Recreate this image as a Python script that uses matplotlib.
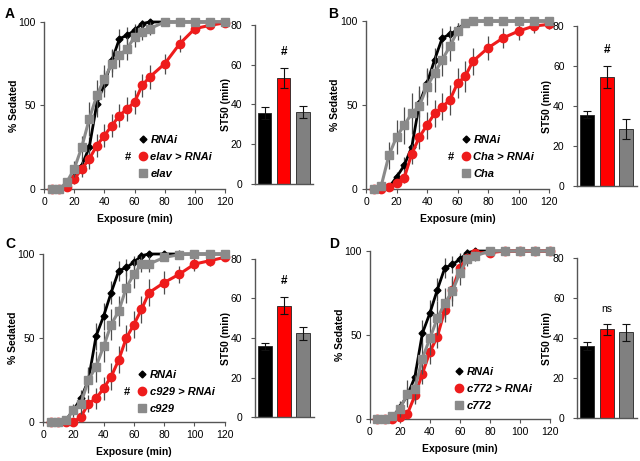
import matplotlib

matplotlib.use("Agg")
import matplotlib.pyplot as plt
from matplotlib.lines import Line2D
import numpy as np

plt.rcParams["font.family"] = ["Liberation Sans", "DejaVu Sans"]

# time points (min)
time_min = [5, 10, 15, 20, 25, 30, 35, 40, 45, 50, 55, 60, 65, 70, 80, 90, 100, 110, 120]

# control shared by all panels
rnai = [0, 0, 1, 7, 14, 25, 51, 63, 77, 90, 92, 95, 99, 100, 100, 100, 100, 100, 100]
rnai_err = [0, 0, 1, 3, 5, 6, 8, 8, 7, 6, 5, 4, 2, 1, 0, 0, 0, 0, 0]

# panel A
elav_rnai = [0, 0, 1, 6, 12, 18, 26, 32, 38, 44, 48, 52, 62, 67, 75, 87, 96, 98, 99.5]
elav_rnai_err = [0, 0, 1, 3, 5, 6, 7, 7, 7, 7, 7, 7, 7, 7, 6, 5, 3, 2, 1]
elav = [0, 0, 4, 12, 25, 42, 56, 66, 75, 80, 84, 91, 94, 96, 100, 100, 100, 100, 100]
elav_err = [0, 0, 2, 5, 7, 10, 9, 8, 8, 7, 7, 6, 5, 4, 0, 0, 0, 0, 0]

# panel B
cha_rnai = [0, 0, 1, 3.5, 6.5, 21, 31, 38, 45, 49, 53, 63, 67, 76, 84, 90, 94, 97, 98]
cha_rnai_err = [0, 0, 1, 2, 3, 6, 7, 8, 8, 8, 9, 9, 9, 8, 7, 6, 5, 4, 3]
cha = [0, 2, 20, 31, 38, 45, 49.5, 61, 69, 77, 85, 94, 99, 100, 100, 100, 100, 100, 100]
cha_err = [0, 2, 8, 10, 11, 12, 12, 11, 11, 10, 9, 5, 2, 0, 0, 0, 0, 0, 0]

# panel C
c929_rnai = [0, 0, 0, 0, 3, 11, 14, 20, 27, 37, 50, 58, 67, 77, 83, 88, 94, 96, 98]
c929_rnai_err = [0, 0, 0, 1, 3, 5, 6, 7, 8, 8, 8, 8, 8, 8, 7, 5, 4, 3, 2]
c929 = [0, 0, 1, 7, 11, 25, 33, 45, 58, 66, 80, 88, 94, 94, 98, 99.6, 100, 100, 100]
c929_err = [0, 0, 1, 4, 6, 8, 9, 9, 9, 9, 9, 8, 5, 5, 2, 1, 0, 0, 0]

# panel D
c772_rnai = [0, 0, 0, 1, 3, 14, 27, 40, 49, 65, 77, 90, 96, 99, 99, 100, 100, 100, 100]
c772_rnai_err = [0, 0, 0, 1, 2, 5, 6, 7, 7, 7, 7, 5, 3, 1, 1, 0, 0, 0, 0]
c772 = [0, 0, 1.5, 6, 15, 18, 36, 48, 60, 69, 76, 87, 95, 97, 100, 100, 100, 100, 100]
c772_err = [0, 0, 1, 5, 8, 8, 9, 10, 10, 9, 9, 7, 4, 3, 0, 0, 0, 0, 0]

# ST50 bars: [RNAi, driver > RNAi, driver]
st50_a = [35.6, 53.3, 36.0]
st50_a_err = [3.1, 5.0, 3.0]
st50_b = [35.7, 54.6, 28.5]
st50_b_err = [1.9, 5.5, 5.2]
st50_c = [35.9, 56.3, 42.3]
st50_c_err = [1.8, 4.4, 3.4]
st50_d = [36.0, 44.4, 42.8]
st50_d_err = [1.8, 2.7, 4.3]

BLACK = "#000000"
RED = "#ee1c1c"
GRAY = "#8a8a8a"
ERR = "#4d4d4d"


def draw_curves(ax, cross, cross_err, driver, driver_err, driver_name, legend_x, legend_y, mark):
    t = np.array(time_min)
    ax.errorbar(t, rnai, yerr=rnai_err, color=BLACK, ecolor=ERR, elinewidth=0.9,
                marker="D", markersize=3.5, linewidth=2.0, clip_on=False, zorder=2)
    ax.errorbar(t, cross, yerr=cross_err, color=RED, ecolor=ERR, elinewidth=0.9,
                marker="o", markersize=6, linewidth=2.2, clip_on=False, zorder=3)
    ax.errorbar(t, driver, yerr=driver_err, color=GRAY, ecolor=ERR, elinewidth=0.9,
                marker="s", markersize=5.5, linewidth=2.2, clip_on=False, zorder=4)
    ax.set_xlim(0, 120)
    ax.set_ylim(0, 100)
    ax.set_xticks(range(0, 121, 20))
    ax.set_yticks([0, 50, 100])
    for side in ("top", "right"):
        ax.spines[side].set_visible(False)
    for side in ("left", "bottom"):
        ax.spines[side].set_color("#555555")
        ax.spines[side].set_linewidth(1.0)
    ax.tick_params(labelsize=7.5, length=3, width=0.8, color="#555555", pad=3)
    ax.set_xlabel("Exposure (min)", fontsize=7.5, fontweight="bold")
    ax.set_ylabel("% Sedated", fontsize=7.5, fontweight="bold")
    ax.xaxis.set_label_coords(0.5, -0.15)
    ax.yaxis.set_label_coords(-0.14, 0.5)

    handles = [
        Line2D([], [], color=BLACK, marker="D", markersize=3.5, linestyle="none"),
        Line2D([], [], color=RED, marker="o", markersize=6, linestyle="none"),
        Line2D([], [], color=GRAY, marker="s", markersize=5.5, linestyle="none"),
    ]
    labels = ["RNAi", f"{driver_name} > RNAi", driver_name]
    leg = ax.legend(handles, labels, loc="center left", bbox_to_anchor=(legend_x, legend_y),
                    frameon=False, handlelength=0.8, handletextpad=0.3, labelspacing=0.62,
                    borderpad=0, borderaxespad=0,
                    prop={"size": 8, "weight": "bold", "style": "italic"})
    if mark:
        ax.text(legend_x - 0.04, legend_y, "#", transform=ax.transAxes, fontsize=8,
                fontweight="bold", ha="right", va="center")
    return leg


def draw_bars(ax, vals, errs, mark, mark_bold):
    x = np.arange(3)
    ax.bar(x, vals, width=0.72, color=[BLACK, "#ff0000", "#808080"], edgecolor="#222222",
           linewidth=0.6, yerr=errs, ecolor="#111111", capsize=3,
           error_kw={"elinewidth": 0.8, "capthick": 0.8})
    ax.set_xlim(-0.5, 2.55)
    ax.set_ylim(0, 80)
    ax.set_yticks(range(0, 81, 20))
    ax.set_xticks([])
    for side in ("top", "right"):
        ax.spines[side].set_visible(False)
    for side in ("left", "bottom"):
        ax.spines[side].set_color("#555555")
        ax.spines[side].set_linewidth(1.0)
    ax.tick_params(axis="y", labelsize=7.5, length=3, width=0.8, color="#555555", pad=6)
    ax.set_ylabel("ST50 (min)", fontsize=7.5, fontweight="bold")
    ax.yaxis.set_label_coords(-0.41, 0.5)
    top = vals[1] + errs[1]
    ax.text(1, top + 5, mark, ha="center", va="bottom", fontsize=8.5 if mark_bold else 7.5,
            fontweight="bold" if mark_bold else "normal")


fig = plt.figure(figsize=(6.4, 4.61), dpi=100)

ax_a = fig.add_axes([0.0688, 0.590, 0.2828, 0.3623])
bar_a = fig.add_axes([0.3984, 0.6009, 0.091, 0.345])
ax_b = fig.add_axes([0.5719, 0.590, 0.286, 0.3644])
bar_b = fig.add_axes([0.9016, 0.5965, 0.094, 0.347])
ax_c = fig.add_axes([0.0672, 0.0846, 0.284, 0.3644])
bar_c = fig.add_axes([0.3984, 0.0954, 0.092, 0.3428])
ax_d = fig.add_axes([0.578, 0.0911, 0.281, 0.3644])
bar_d = fig.add_axes([0.9016, 0.0933, 0.094, 0.347])

draw_curves(ax_a, elav_rnai, elav_rnai_err, elav, elav_err, "elav", 0.52, 0.19, True)
draw_curves(ax_b, cha_rnai, cha_rnai_err, cha, cha_err, "Cha", 0.52, 0.19, True)
draw_curves(ax_c, c929_rnai, c929_rnai_err, c929, c929_err, "c929", 0.52, 0.18, True)
draw_curves(ax_d, c772_rnai, c772_rnai_err, c772, c772_err, "c772", 0.47, 0.18, False)

draw_bars(bar_a, st50_a, st50_a_err, "#", True)
draw_bars(bar_b, st50_b, st50_b_err, "#", True)
draw_bars(bar_c, st50_c, st50_c_err, "#", True)
draw_bars(bar_d, st50_d, st50_d_err, "ns", False)

for letter, x, y in [("A", 0.008, 0.985), ("B", 0.512, 0.985), ("C", 0.008, 0.485), ("D", 0.515, 0.485)]:
    fig.text(x, y, letter, fontsize=10, fontweight="bold", ha="left", va="top")

fig.savefig("out.png", dpi=100)
plt.close(fig)
